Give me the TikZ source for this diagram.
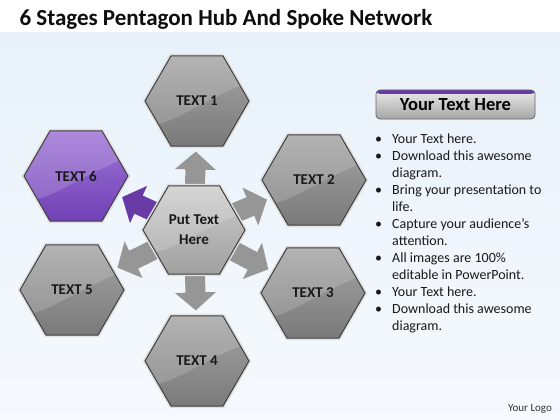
\documentclass[tikz,border=0pt]{standalone}
\usepackage{fontspec}
\setmainfont{Carlito}
\usetikzlibrary{shapes.geometric,arrows.meta,backgrounds}
\definecolor{hexlight}{RGB}{165,165,165}
\definecolor{hexdark}{RGB}{122,122,122}
\definecolor{hublight}{RGB}{205,205,205}
\definecolor{hubdark}{RGB}{160,160,160}
\definecolor{purplelight}{RGB}{158,116,214}
\definecolor{purpledark}{RGB}{112,66,182}
\definecolor{spokegray}{RGB}{150,150,150}
\definecolor{spokepurple}{RGB}{104,58,166}
\definecolor{pagetint}{RGB}{232,241,250}
\begin{document}
\begin{tikzpicture}[x=1pt,y=-1pt,
  hexa/.style={regular polygon,regular polygon sides=6,minimum size=104pt,inner sep=0pt,
    draw=black!75,line width=1pt,preaction={draw=black!12,line width=4pt},
    font=\bfseries\fontsize{15}{17}\selectfont,text=black!90,align=center,
    path picture={\fill[white,fill opacity=.16] (path picture bounding box.north west) -- (path picture bounding box.north east)
      -- ([yshift=-26pt]path picture bounding box.north east) .. controls ([xshift=-8pt,yshift=-6pt]path picture bounding box.center)
      and ([xshift=30pt,yshift=22pt]path picture bounding box.south west) .. ([yshift=20pt]path picture bounding box.south west) -- cycle;}},
  hexgray/.style={hexa,top color=hexlight,bottom color=hexdark},
  hexhub/.style={hexa,minimum size=102pt,top color=hublight,bottom color=hubdark,font=\bfseries\fontsize{15}{20}\selectfont},
  hexpurple/.style={hexa,top color=purplelight,bottom color=purpledark},
  spoke/.style={draw=spokegray,line width=20pt,-{Triangle[width=40pt,length=18pt]},shorten >=5pt},
  spokeactive/.style={spoke,draw=spokepurple}]

\useasboundingbox (0,0) rectangle (560,420);
\begin{scope}[on background layer]
\fill[white] (0,0) rectangle (560,420);
\shade[top color=pagetint,bottom color=white!60!pagetint] (0,33) rectangle (560,420);
\end{scope}

\node[anchor=base west,font=\bfseries\fontsize{23}{27}\selectfont,text=black!95] (title) at (16,26) {6 Stages Pentagon Hub And Spoke Network};

\node[hexhub] (hub) at (194,230) {Put Text\\Here};
\node[hexgray] (t1) at (197,101) {TEXT 1};
\node[hexgray] (t2) at (314,180) {TEXT 2};
\node[hexgray] (t3) at (313,293) {TEXT 3};
\node[hexgray] (t4) at (197,361) {TEXT 4};
\node[hexgray] (t5) at (72,290) {TEXT 5};
\node[hexpurple] (t6) at (76,176) {TEXT 6};

\begin{scope}[on background layer]
\draw[spoke] (hub) -- (t1);
\draw[spoke] (hub) -- (t2);
\draw[spoke] (hub) -- (t3);
\draw[spoke] (hub) -- (t4);
\draw[spoke] (hub) -- (t5);
\draw[spokeactive] (hub) -- (t6);
\end{scope}

\node[rectangle,rounded corners=4pt,minimum width=159pt,minimum height=29pt,top color=black!8,bottom color=black!35,
  draw=black!60,line width=.8pt,font=\bfseries\fontsize{18.5}{20}\selectfont,
  path picture={\fill[spokepurple] (path picture bounding box.north west) rectangle ([yshift=-4pt]path picture bounding box.north east);}]
  (header) at (455.5,104.5) {Your Text Here};

\node[anchor=north west,inner sep=0pt,font=\fontsize{14}{17}\selectfont,text=black!90] (bullets) at (375,131)
  {\begin{tabular}{@{}p{17pt}@{}l@{}}
  \textbullet & Your Text here.\\
  \textbullet & Download this awesome\\
   & diagram.\\
  \textbullet & Bring your presentation to\\
   & life.\\
  \textbullet & Capture your audience’s\\
   & attention.\\
  \textbullet & All images are 100\%\\
   & editable in PowerPoint.\\
  \textbullet & Your Text here.\\
  \textbullet & Download this awesome\\
   & diagram.
  \end{tabular}};

\node[font=\fontsize{11}{13}\selectfont,text=black!80] (logo) at (530,409) {Your Logo};
\end{tikzpicture}
\end{document}
